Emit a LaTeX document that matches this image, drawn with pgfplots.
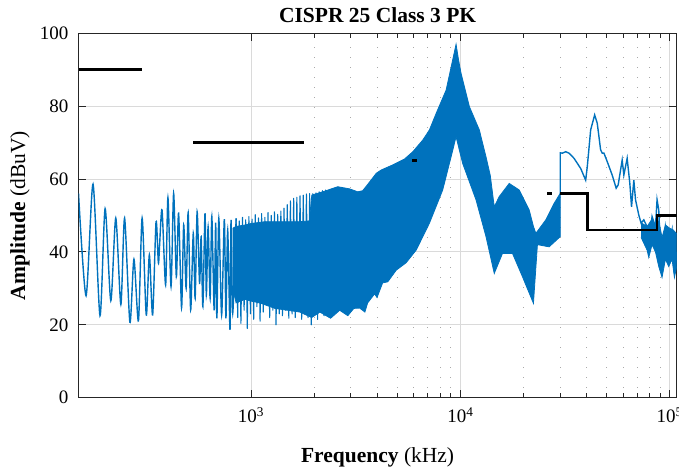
\documentclass[border=0pt]{standalone}
\usepackage{fontspec}
\setmainfont{Liberation Serif}
\usepackage{pgfplots}
\pgfplotsset{compat=1.18}
\definecolor{mblue}{RGB}{0,114,189}
\definecolor{gridc}{RGB}{218,218,218}
\definecolor{mingrid}{RGB}{170,170,170}
\definecolor{axc}{RGB}{38,38,38}
\begin{document}
\begin{tikzpicture}[x=1pt,y=1pt]
\begin{axis}[
  at={(78.5pt,72.3pt)}, anchor=south west,
  width=598.2pt, height=364.4pt, scale only axis,
  xmode=log, xmin=150, xmax=108000, ymin=0, ymax=100,
  ytick={0,20,40,60,80,100},
  xtick={1000,10000,100000},
  xticklabels={10\textsuperscript{3},10\textsuperscript{4},10\textsuperscript{5}},
  tick label style={font=\fontsize{19}{22}\selectfont, /pgf/number format/assume math mode=true},
  yticklabel style={inner sep=0pt, xshift=-10pt},
  xticklabel style={inner sep=0pt, yshift=-10pt},
  tick align=inside,
  major tick length=7.5pt, minor tick length=4.5pt,
  tick style={axc, line width=0.9pt},
  axis line style={axc, line width=1.1pt},
  xmajorgrids=true, xminorgrids=true, ymajorgrids=true,
  major grid style={draw=gridc, line width=0.9pt, solid},
  minor grid style={draw=mingrid, line width=0.9pt, dash pattern=on 0.9pt off 9.1pt},
  title={\textbf{CISPR 25 Class 3 PK}},
  every axis title/.style={at={(axis description cs:0.5,1.0283)}, anchor=base, font=\fontsize{21.5}{25}\selectfont, inner sep=0pt},
  xlabel={\textbf{Frequency} (kHz)},
  xlabel style={at={(axis description cs:0.5,-0.1792)}, anchor=base, font=\fontsize{21.5}{25}\selectfont, inner sep=0pt},
  ylabel={\textbf{Amplitude} (dBuV)},
  ylabel style={at={(axis description cs:-0.0894,0.5)}, anchor=base, font=\fontsize{21.5}{25}\selectfont, inner sep=0pt},
]
% low-frequency oscillation
\addplot[mblue, line width=1.4pt, smooth, tension=0.45] coordinates {
(150,56.1) (163,28.0) (176,58.6) (190,22.5) (201,51.9) (214,26.6) (226,49.3) (239,25.6)
(249,49.3) (264,20.7) (276,38.0) (290,21.1) (302,49.3) (316,22.7) (327,39.2) (339,22.7)
(352,48.3) (361,37.0) (366,41.9) (376,51.5) (391,30.9) (401,54.9) (415,30.5) (427,56.1)
(440,33.2) (451,50.6) (466,24.7) (477,47.4) (490,30.0) (501,50.8) (515,24.1) (530,45.1)
(541,27.3) (553,51.0) (568,31.4) (578,44.2) (589,25.0) (603,50.6) (612,28.2) (624,46.9)
(638,27.3) (650,49.7) (667,24.0) (678,48.0) (687,21.8) (702,49.2) (724,22.7) (746,49.0)
(759,21.8) (774,46.0) (794,18.6) (803,48.8) (818,23.2) (849,49.2)
};
% dense band
\addplot[fill=mblue, draw=mblue, line width=0.8pt] coordinates {
(818,46.5) (849,47) (936,47.4) (1000,47.8) (1166,48.3) (1452,48.3) (1712,48.3) (1900,48.5)
(1952,55.6) (2200,56.5) (2596,57.9) (2961,57.3) (3233,56.5) (3415,56.8) (3607,58.5)
(3968,61.6) (4193,62.5) (4761,63.9) (5412,65.5) (5928,67.5) (6614,70.7) (7119,73.5)
(7661,78.0) (8548,84.4) (9190,92.7) (9539,97.0) (9783,93) (10077,89.0) (11039,79.9)
(12317,73.5) (13258,66.1) (13896,61) (14520,52.4) (15340,55.2) (17120,58.8) (19100,57)
(21320,51.5) (22340,47) (22940,45.1) (25590,48.8) (28030,53.3) (30000,56.1)
(30000,44.2) (26540,41.4) (23340,42) (22340,25.9) (19800,33.2) (17740,39.6) (15900,39.6)
(14520,34.1) (13258,44.2) (11878,54.3) (10256,64.3) (9539,71.6) (9030,66.1) (8235,57)
(7119,47.9) (6152,40.5) (5500,37) (4940,35) (4500,31.8) (4253,31.5) (4000,27.5) (3895,28.5)
(3607,26) (3500,23.5) (3304,24.6) (3100,24.5) (2900,22.5) (2653,24) (2400,21.8) (2132,23.5)
(1950,22) (1712,23.5) (1301,24.5) (1104,26) (1000,26.5) (936,27) (849,26) (818,30)
};
% spikes at the edges of the band
\addplot[mblue, line width=1.1pt, line join=round] coordinates {
(849,49.2) (864,22) (879,48.5) (895,20.4) (911,49.5) (927,24) (943,48.8) (960,19)
(977,49.7) (994,23) (1012,49) (1030,21.5) (1048,50.2) (1067,25) (1086,49.3) (1105,21)
(1124,50.5) (1144,23.5) (1165,49.5) (1185,26) (1206,50.8) (1228,22) (1250,50) (1272,24)
(1294,51) (1317,20) (1341,50.3) (1365,23) (1389,51.2) (1413,22.5) (1438,52) (1464,24)
(1490,53) (1516,21.8) (1543,54) (1571,23) (1599,54.7) (1627,22) (1656,55) (1685,24)
(1715,55.4) (1746,21.5) (1777,55.6) (1808,23.5) (1840,55.9) (1873,22) (1906,56) (1940,20)
(1974,56) (2009,23) (2045,56.2) (2081,21.5) (2118,56.5) (2156,23.5) (2194,56.8) (2233,22.5)
(2272,57) (2313,23.2)
};
% above 30 MHz
\addplot[mblue, line width=1.4pt] coordinates {
(30000,56) (30000,67.2) (30690,67.1) (31860,67.5) (33040,67.1) (34910,65.7) (37570,62.9)
(39680,59.7) (40390,63.4) (41920,73.5) (43800,77.6) (45070,75.3) (46770,68.0) (47610,67.1)
(48510,67.1) (50280,64.8) (53110,61.1) (55500,57.5) (56730,58.4) (59280,65.2) (60390,61.1)
(62620,65.7) (64490,58.8) (65710,52.4) (67390,59.7) (68660,54.3) (71190,50.1) (73000,47.9)
(75200,48.8) (77980,46.9) (79430,41.9) (82350,49.7) (85480,46.9) (87000,54.3) (88640,51.5)
(89620,45.1) (91900,36) (95390,46.9) (98900,41.4) (102600,46) (105300,34.1) (108000,40)
};
\addplot[fill=mblue, draw=mblue, line width=0.8pt] coordinates {
(73000,48) (77980,47) (82350,49) (85480,46.5) (88640,48.5) (91900,44) (95390,47.4)
(100000,46.5) (104000,46) (108000,45)
(108000,36) (105300,33) (102600,38) (98900,36) (95390,38) (91900,33) (88640,36)
(85480,40) (82350,42) (79430,38.5) (77980,40.5) (73000,44)
};
% limit lines
\addplot[black, line width=2.8pt] coordinates {(150,90) (300,90)};
\addplot[black, line width=2.8pt] coordinates {(530,70) (1800,70)};
\addplot[black, line width=2.8pt] coordinates {(5900,65) (6200,65)};
\addplot[black, line width=2.8pt] coordinates {(26000,56) (27500,56)};
\addplot[black, line width=2.8pt] coordinates {(30000,56) (40400,56) (40400,46) (87000,46) (87000,50) (108000,50)};
\end{axis}
\pgfresetboundingbox
\useasboundingbox (0,0) rectangle (679,470);
\end{tikzpicture}
\end{document}
